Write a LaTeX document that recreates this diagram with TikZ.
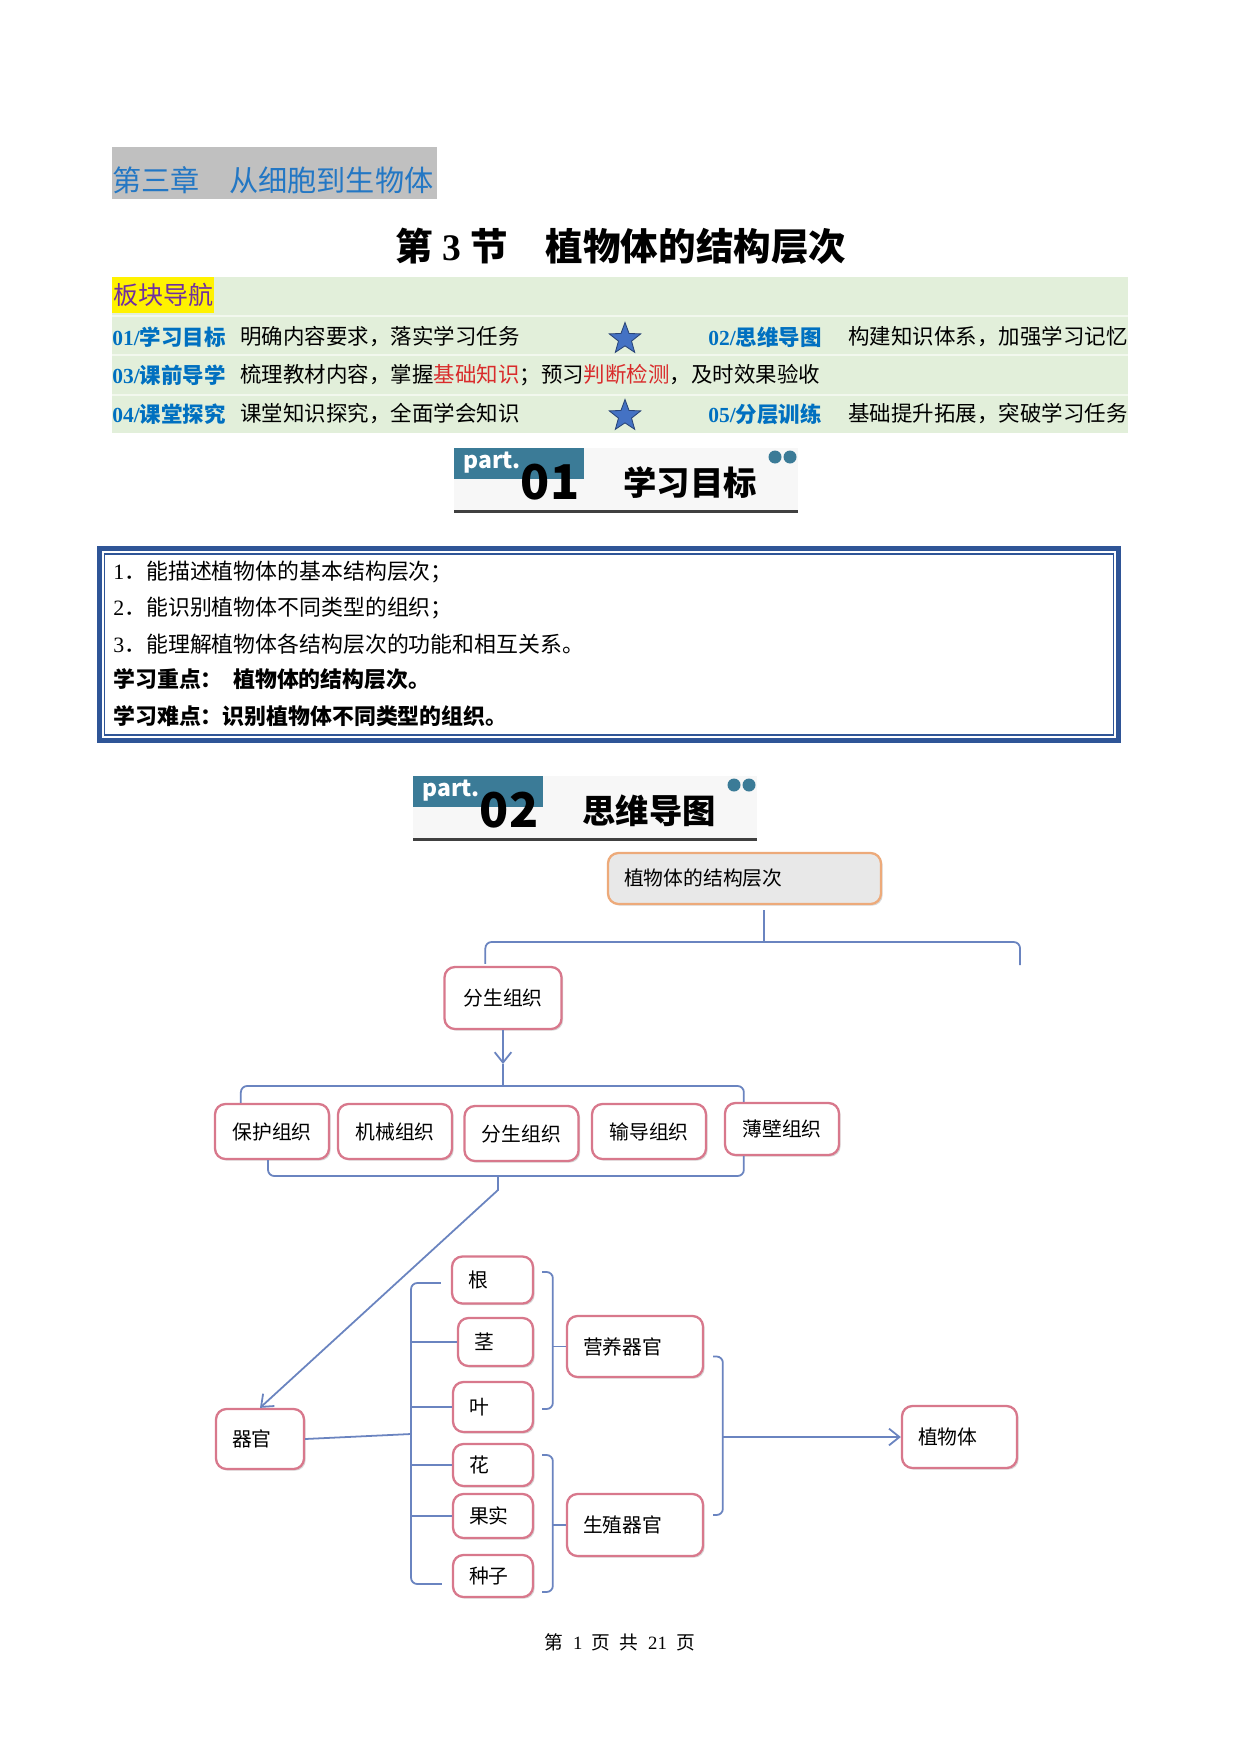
\documentclass[tikz,border=0pt]{standalone}
\usepackage{fontspec}
\setmainfont{Noto Sans CJK SC}
\newfontfamily\tnr{Liberation Serif}
\usepackage{xcolor}
\usepackage{tikz}
\usetikzlibrary{arrows.meta,positioning,calc,shapes.geometric,shadows}
\definecolor{chapgray}{HTML}{C0C0C0}
\definecolor{chapblue}{HTML}{2377C4}
\definecolor{navgreen}{HTML}{E2EFDA}
\definecolor{navblue}{HTML}{0070C0}
\definecolor{navred}{HTML}{D92B2B}
\definecolor{navpurple}{HTML}{7030A0}
\definecolor{starblue}{HTML}{4472C4}
\definecolor{partteal}{HTML}{3B7B97}
\definecolor{partgray}{HTML}{F7F7F7}
\definecolor{goalblue}{HTML}{2F5597}
\definecolor{boxrose}{HTML}{D8788C}
\definecolor{rootorange}{HTML}{EDAA7A}
\definecolor{linkblue}{HTML}{6A84C0}
\newcommand{\pu}{0.4797pt}

\begin{document}
\begin{tikzpicture}[
  x=0.4797pt, y=-0.4797pt,
  every node/.style={inner sep=0pt},
  navlabel/.style={anchor=west, text=navblue, font=\bfseries\fontsize{10.3pt}{12pt}\selectfont},
  navtext/.style={anchor=west, font=\fontsize{10.3pt}{12pt}\selectfont},
  navstar/.style={star, star points=5, star point ratio=2.4, fill=starblue, draw=starblue!60!black, minimum size=33*\pu},
  goal/.style={anchor=west, font=\fontsize{10.5pt}{12pt}\selectfont},
  goalbold/.style={goal, font=\bfseries\fontsize{10.5pt}{12pt}\selectfont},
  parttag/.style={text=white, font=\bfseries\fontsize{11pt}{12pt}\selectfont},
  partnum/.style={font=\bfseries\fontsize{23pt}{24pt}\selectfont},
  parttitle/.style={font=\bfseries\fontsize{16pt}{18pt}\selectfont},
  mapbox/.style={draw=boxrose, line width=1.1pt, rounded corners=5pt, fill=white,
    drop shadow={shadow xshift=0.8pt, shadow yshift=-0.8pt, fill=black, opacity=0.15},
    font=\fontsize{9.5pt}{11pt}\selectfont},
  tissue/.style={mapbox, minimum width=114*\pu, minimum height=55*\pu},
  lbox/.style={mapbox, align=left, inner xsep=16*\pu, minimum width=#1*\pu, text width=(#1-32)*\pu},
  rootbox/.style={lbox=273, draw=rootorange, fill=gray!18, minimum height=51*\pu},
  link/.style={draw=linkblue, line width=0.85pt},
  barb/.style={-{Straight Barb[length=5pt, width=8pt]}}
]
  \path[use as bounding box, fill=white] (0,0) rectangle (1241,1754);

  % chapter and title
  \fill[chapgray] (112,147) rectangle (437,199);
  \node[anchor=west, text=chapblue, font=\fontsize{14pt}{16pt}\selectfont] (chapter) at (112,180) {第三章\quad 从细胞到生物体};
  \node[font=\bfseries\fontsize{18pt}{20pt}\selectfont] (title) at (621,246) {第{\tnr\ 3\ }节\quad 植物体的结构层次};

  % navigation block
  \fill[navgreen] (112,277) rectangle (1128,433);
  \foreach \y in {316,355,395}
    \draw[white!55!navgreen, line width=1pt] (112,\y) -- (1128,\y);
  \node[anchor=north west, fill=yellow, text=navpurple, minimum width=102*\pu, minimum height=36*\pu, font=\fontsize{12pt}{14pt}\selectfont] (navhead) at (112,277) {板块导航};
  \node[navlabel] (nav1) at (112,337) {{\tnr 01/}学习目标};
  \node[navtext] (nav1t) at (240,337) {明确内容要求，落实学习任务};
  \node[navstar] (star1) at (625,339) {};
  \node[navlabel] (nav2) at (708,337) {{\tnr 02/}思维导图};
  \node[navtext] (nav2t) at (848,337) {构建知识体系，加强学习记忆};
  \node[navlabel] (nav3) at (112,375) {{\tnr 03/}课前导学};
  \node[navtext] (nav3t) at (240,375) {梳理教材内容，掌握\textcolor{navred}{基础知识}；预习\textcolor{navred}{判断检测}，及时效果验收};
  \node[navlabel] (nav4) at (112,414) {{\tnr 04/}课堂探究};
  \node[navtext] (nav4t) at (240,414) {课堂知识探究，全面学会知识};
  \node[navstar] (star2) at (625,416) {};
  \node[navlabel] (nav5) at (708,414) {{\tnr 05/}分层训练};
  \node[navtext] (nav5t) at (848,414) {基础提升拓展，突破学习任务};

  % part 01
  \begin{scope}[shift={(454,448)}]
    \fill[partgray] (0,0) rectangle (344,62);
    \fill[partteal] (0,0) rectangle (130,31);
    \draw[black!75, line width=3*\pu] (0,63) -- (344,63);
    \fill[partteal] (321,9) circle[radius=6.5] (336,9) circle[radius=6.5];
    \node[parttag] (tag1) at (38,15) {part.};
    \node[partnum] (num1) at (96,34) {01};
    \node[parttitle] (head1) at (236,35) {学习目标};
  \end{scope}

  % goals
  \draw[goalblue, line width=5*\pu] (99.5,548.5) rectangle (1118.5,740.5);
  \draw[goalblue, line width=1.2*\pu] (104.5,554) rectangle (1113.5,735);
  \node[goal] (goal1) at (113,572) {{\tnr 1}．能描述植物体的基本结构层次；};
  \node[goal] (goal2) at (113,608) {{\tnr 2}．能识别植物体不同类型的组织；};
  \node[goal] (goal3) at (113,644) {{\tnr 3}．能理解植物体各结构层次的功能和相互关系。};
  \node[goalbold] (focus) at (113,679) {学习重点：\hspace{5pt}植物体的结构层次。};
  \node[goalbold] (hard) at (113,716) {学习难点：识别植物体不同类型的组织。};

  % part 02
  \begin{scope}[shift={(413,776)}]
    \fill[partgray] (0,0) rectangle (344,62);
    \fill[partteal] (0,0) rectangle (130,31);
    \draw[black!75, line width=3*\pu] (0,63) -- (344,63);
    \fill[partteal] (321,9) circle[radius=6.5] (336,9) circle[radius=6.5];
    \node[parttag] (tag2) at (38,15) {part.};
    \node[partnum] (num2) at (96,34) {02};
    \node[parttitle] (head2) at (236,35) {思维导图};
  \end{scope}

  % mind map
  \node[rootbox] (root) at (744.5,878.5) {植物体的结构层次};
  \node[tissue, minimum width=117*\pu, minimum height=62*\pu] (mer1) at (503,998) {分生组织};
  \node[tissue] (prot) at (272,1131.5) {保护组织};
  \node[tissue] (mech) at (395,1131.5) {机械组织};
  \node[tissue] (mer2) at (521.5,1133.5) {分生组织};
  \node[tissue] (cond) at (649,1131.5) {输导组织};
  \node[tissue, minimum height=52*\pu] (paren) at (782,1129) {薄壁组织};

  \node[lbox=88, minimum height=60*\pu] (organ) at (260,1439) {器官};
  \node[lbox=81, minimum height=47*\pu] (gen) at (492.5,1280) {根};
  \node[lbox=75, minimum height=48*\pu] (jing) at (495.5,1342) {茎};
  \node[lbox=80, minimum height=50*\pu] (ye) at (493,1407) {叶};
  \node[lbox=80, minimum height=42*\pu] (hua) at (493,1465) {花};
  \node[lbox=80, minimum height=44*\pu] (guo) at (493,1516) {果实};
  \node[lbox=80, minimum height=42*\pu] (zhong) at (493,1576) {种子};
  \node[lbox=136, minimum height=61*\pu] (veg) at (635,1346.5) {营养器官};
  \node[lbox=136, minimum height=62*\pu] (rep) at (635,1525) {生殖器官};
  \node[lbox=115, minimum height=62*\pu] (plant) at (959.5,1437) {植物体};

  % root brace
  \coordinate (rbar) at (764,942);
  \coordinate (rend) at (1020,965);
  \draw[link] ($(root.south)+(19.5,5)$) -- (rbar);
  \draw[link, rounded corners=3pt] ($(mer1.north west)+(42,-2)$) |- (rbar) -| (rend);

  % meristem to tissues
  \coordinate (tbar) at (503,1086);
  \draw[link, barb] (mer1.south) -- ($(tbar)+(0,-22)$);
  \draw[link] ($(tbar)+(0,-22)$) -- (tbar);
  \draw[link, rounded corners=3pt] ($(prot.north west)+(27,0)$) |- (tbar) -| ($(paren.north west)+(20,0)$);

  % tissues to organ
  \coordinate (bbar) at (498,1176);
  \draw[link, rounded corners=3pt] ($(prot.south)+(-4,0)$) |- (bbar) -| ($(paren.south west)+(20,0)$);
  \draw[link, barb] (bbar) -- ++(0,14) -- (organ.north);

  % organ list
  \coordinate (obar) at (411,1434);
  \draw[link] (organ.east) -- (obar);
  \draw[link, rounded corners=3pt] ($(gen.west)+(-10,3)$) -| (obar) |- ($(zhong.west)+(-10,8)$);
  \foreach \o in {jing,ye,hua,guo}
    \draw[link] (\o.west) -- (\o.west -| obar);

  % organ groups
  \coordinate (vbar) at ($(veg.west)+(-13,0)$);
  \draw[link, rounded corners=3pt] ($(gen.east)+(8,-8)$) -| (vbar) |- ($(ye.east)+(8,2)$);
  \draw[link] (vbar) -- (veg.west);
  \coordinate (rbar2) at ($(rep.west)+(-13,0)$);
  \draw[link, rounded corners=3pt] ($(hua.east)+(8,-10)$) -| (rbar2) |- ($(zhong.east)+(8,16)$);
  \draw[link] (rbar2) -- (rep.west);

  % to plant body
  \coordinate (fbar) at ($(plant.west)+(-178,0)$);
  \draw[link, rounded corners=3pt] ($(veg.east)+(9,10)$) -| (fbar) |- ($(rep.east)+(9,-10)$);
  \draw[link, barb] (fbar) -- (plant.west);

  \node[font=\fontsize{9pt}{10pt}\selectfont] (footer) at (620,1642) {第\enspace{\tnr 1}\enspace 页\enspace 共\enspace{\tnr 21}\enspace 页};
\end{tikzpicture}
\end{document}
